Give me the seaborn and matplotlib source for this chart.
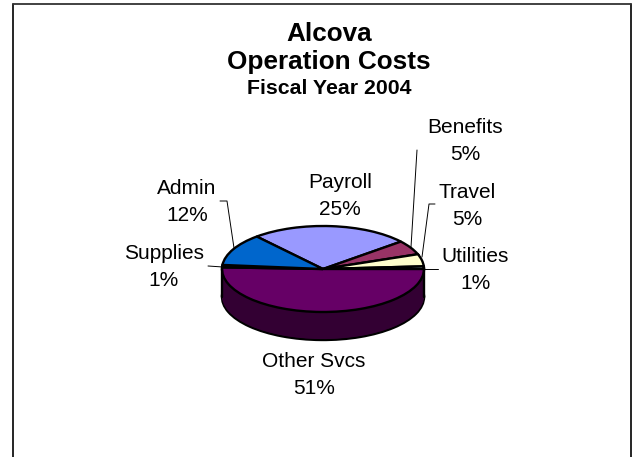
import matplotlib
matplotlib.use('Agg')
import seaborn as sns
from matplotlib import pyplot as plt
from matplotlib.lines import Line2D

sns.set_theme(style='white')
plt.rcParams['font.family'] = ['Liberation Sans', 'DejaVu Sans']

W, H = 632, 457

categories = ['Payroll', 'Benefits', 'Travel', 'Utilities', 'Other Svcs', 'Supplies', 'Admin']
shares = [25.4, 5.4, 4.6, 1.0, 50.6, 0.9, 12.1]
top_colors = sns.color_palette(['#9999FF', '#993366', '#FFFFCC', '#CCFFFF', '#660066', '#FF8080', '#0066CC'])
side_colors = sns.color_palette(['#4C4C80', '#4C1933', '#808066', '#668080', '#330033', '#804040', '#003366'])

# where the labels sit, in pixels
label_pos = {
    'Payroll': (340, 196), 'Benefits': (465, 141), 'Travel': (467, 206), 'Utilities': (475, 270),
    'Other Svcs': (314, 375), 'Supplies': (164, 267), 'Admin': (187, 202),
}
leaders = [
    [(417, 150), (411, 247)],
    [(435, 204), (429, 204), (422, 257)],
    [(423, 269), (438, 269)],
    [(208, 266), (223, 267)],
    [(220, 201), (227, 201), (234, 248)],
]

cx, cy, rx, ry, depth = 323, 269, 101, 43, 28


def fx(x, y):
    return x / W, 1 - y / H


fig = plt.figure(figsize=(W / 100, H / 100), dpi=100)
ax = fig.add_axes([0, 0, 1, 1])

# the side of the disc: same pie stacked downwards
d = depth / ry
for i in range(30, 0, -1):
    edge = 'black' if i == 30 else 'none'
    ax.pie(shares, colors=side_colors, startangle=131, counterclock=False,
           center=(0, -d * i / 30), wedgeprops=dict(edgecolor=edge, linewidth=1.7))
ax.plot([-1, -1], [0, -d], color='black', lw=1.7)
ax.plot([1, 1], [0, -d], color='black', lw=1.7)
ax.pie(shares, colors=top_colors, startangle=131, counterclock=False,
       wedgeprops=dict(edgecolor='black', linewidth=1.7))

ax.set_aspect('auto')
ax.set_xlim(-cx / rx, (W - cx) / rx)
ax.set_ylim((cy - H) / ry, cy / ry)
ax.axis('off')

for name, share in zip(categories, shares):
    x, y = label_pos[name]
    fig.text(*fx(x, y), f'{name}\n{share:.0f}%', ha='center', va='center', fontsize=15,
             linespacing=1.55, color='black')

for pts in leaders:
    xs, ys = zip(*[fx(*p) for p in pts])
    fig.add_artist(Line2D(xs, ys, color='black', lw=0.7))

# frame of the chart area, cut off at the bottom
left, right = fx(13, 0)[0], fx(631, 0)[0]
top = fx(0, 4)[1]
fig.add_artist(Line2D([left, left], [0, top], color='black', lw=1.2))
fig.add_artist(Line2D([right, right], [0, top], color='black', lw=1.2))
fig.add_artist(Line2D([left, right], [top, top], color='#333333', lw=1.3))

for text, y, size in [('Alcova', 34, 18.8), ('Operation Costs', 62, 18.8), ('Fiscal Year 2004', 88, 15.3)]:
    fig.text(*fx(329, y), text, ha='center', va='center', fontsize=size, fontweight='bold', color='black')

fig.savefig('out.png', dpi=100)
